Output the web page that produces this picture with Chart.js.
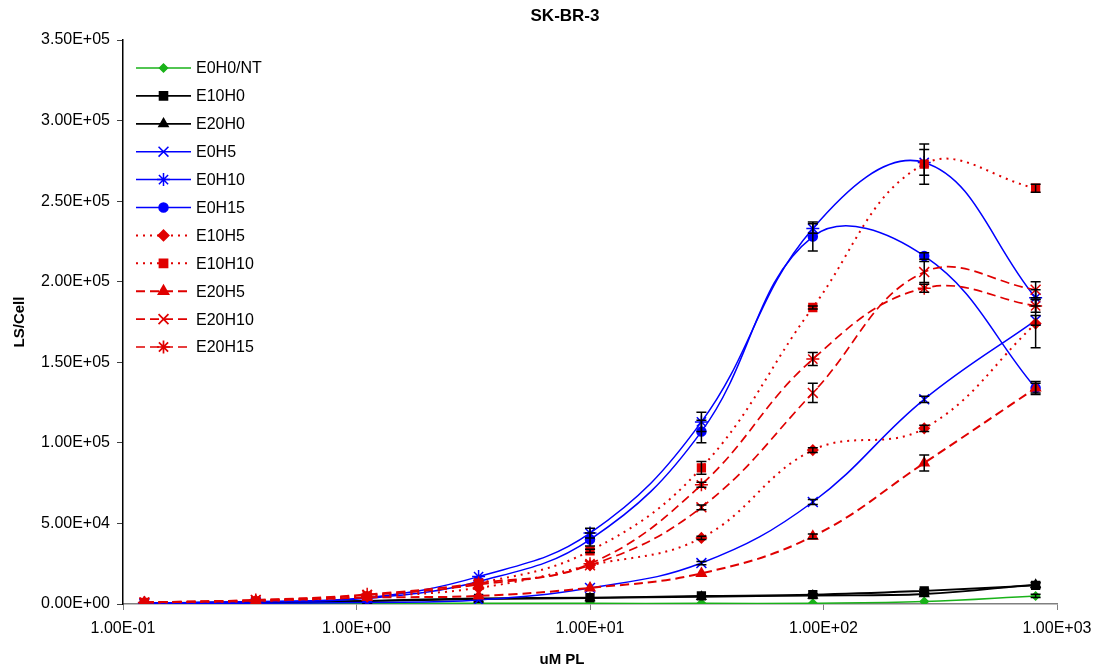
<!DOCTYPE html>
<html>
<head>
<meta charset="utf-8">
<script src="https://cdn.jsdelivr.net/npm/chart.js@4"></script>
<style>
html,body{margin:0;padding:0;background:#fff;}
#wrap{width:1115px;height:671px;}
</style>
</head>
<body>
<div id="wrap"><canvas id="c" width="1115" height="671"></canvas></div>
<script>
// ---- data ----
const concentrations = [0.1235, 0.3704, 1.111, 3.333, 10, 30, 90, 270, 810];
const xTickValues = [0.1, 1, 10, 100, 1000];
const yTickStep = 50000;
const seriesNames = ["E0H0/NT","E10H0","E20H0","E0H5","E0H10","E0H15","E10H5","E10H10","E20H5","E20H10","E20H15"];
const E0H0  = [300, 400, 500, 500, 400, 400, 500, 1500, 5000];
const E10H0 = [600, 1000, 2000, 3500, 4000, 5000, 5800, 8200, 11500];
const E20H0 = [600, 1000, 1800, 3000, 3700, 4500, 5200, 6200, 12000];
const E0H5  = [300, 500, 1000, 2500, 10000, 25400, 63300, 127000, 176000];
const E0H10 = [600, 1500, 4000, 17000, 44000, 113000, 233000, 274000, 190000];
const E0H15 = [600, 1400, 3500, 14000, 40000, 107000, 228000, 216000, 134000];
const E10H5 = [800, 1800, 4500, 10000, 24000, 41000, 95500, 109000, 174000];
const E10H10= [1000, 2000, 5000, 13000, 33000, 84500, 184000, 273000, 258000];
const E20H5 = [1000, 2000, 4000, 5000, 10000, 19000, 42000, 87500, 134000];
const E20H10= [1000, 2500, 5500, 12000, 24000, 60000, 131000, 206000, 195000];
const E20H15= [1000, 2500, 6000, 13000, 25000, 74000, 152000, 196000, 185000];
// error (half-width) per point
const errE0H0  = [0,0,0,0,0,0,0,0,1000];
const errE10H0 = [0,0,0,0,0,0,500,1000,1500];
const errE20H0 = [0,0,0,0,0,0,0,1000,1500];
const errE0H5  = [0,0,0,0,0,1000,1500,2000,3000];
const errE0H10 = [0,0,0,0,3000,6000,3000,8000,5000];
const errE0H15 = [0,0,0,0,4000,7000,9000,2000,3000];
const errE10H5 = [0,0,0,0,0,1000,1500,2000,15000];
const errE10H10= [0,0,0,0,1000,4000,1000,12500,2500];
const errE20H5 = [0,0,0,0,0,0,1500,5000,4000];
const errE20H10= [0,0,0,0,0,1500,6000,6500,5000];
const errE20H15= [0,0,0,0,0,1500,4000,2500,4000];

const seriesValues = [E0H0,E10H0,E20H0,E0H5,E0H10,E0H15,E10H5,E10H10,E20H5,E20H10,E20H15];
const seriesErrors = [errE0H0,errE10H0,errE20H0,errE0H5,errE0H10,errE0H15,errE10H5,errE10H10,errE20H5,errE20H10,errE20H15];

// ---- styles ----
const GREEN = '#19b219', BLACK = '#000000', BLUE = '#0000ff', RED = '#e00000';
const styles = [
  {c:GREEN, dash:[], lw:1.5, ps:'rectRot', r:4},
  {c:BLACK, dash:[], lw:1.8, ps:'rect', r:5.5},
  {c:BLACK, dash:[], lw:1.8, ps:'triangle', r:5},
  {c:BLUE, dash:[], lw:1.5, ps:'crossRot', r:7},
  {c:BLUE, dash:[], lw:1.5, ps:'star', r:6.5},
  {c:BLUE, dash:[], lw:1.5, ps:'circle', r:4.5},
  {c:RED, dash:[2,5], lw:2, ps:'rectRot', r:5},
  {c:RED, dash:[2,5], lw:2, ps:'rect', r:5.5},
  {c:RED, dash:[9,5], lw:2, ps:'triangle', r:5.5},
  {c:RED, dash:[9,5], lw:1.7, ps:'crossRot', r:7},
  {c:RED, dash:[9,5], lw:1.7, ps:'star', r:6.5}
];

function fmtExp(v){
  if (v === 0) return '0.00E+00';
  const e = Math.floor(Math.log10(Math.abs(v)) + 1e-9);
  const m = v / Math.pow(10, e);
  const sign = e < 0 ? '-' : '+';
  const ae = Math.abs(e);
  return m.toFixed(2) + 'E' + sign + (ae < 10 ? '0' + ae : '' + ae);
}

const datasets = seriesNames.map((name, i) => ({
  label: name,
  data: concentrations.map((x, j) => ({x: x, y: seriesValues[i][j]})),
  errors: seriesErrors[i],
  borderColor: styles[i].c,
  backgroundColor: styles[i].c,
  borderWidth: styles[i].lw,
  borderDash: styles[i].dash,
  pointStyle: styles[i].ps,
  pointRadius: styles[i].r,
  pointBorderWidth: 1.5,
  pointBackgroundColor: styles[i].c,
  pointBorderColor: styles[i].c,
  tension: 0.4,
  fill: false,
  order: seriesNames.length - i
}));

const FONT = '"Liberation Sans", Arial, sans-serif';

const errorBars = {
  id: 'errorBars',
  afterDatasetsDraw(chart) {
    const ctx = chart.ctx, xs = chart.scales.x, ys = chart.scales.y;
    ctx.save();
    ctx.strokeStyle = '#000';
    ctx.lineWidth = 1.5;
    chart.data.datasets.forEach(ds => {
      ds.data.forEach((p, j) => {
        const e = ds.errors[j];
        if (!e) return;
        const px = xs.getPixelForValue(p.x);
        const y1 = ys.getPixelForValue(p.y + e);
        const y2 = ys.getPixelForValue(Math.max(0, p.y - e));
        ctx.beginPath();
        ctx.moveTo(px, y1); ctx.lineTo(px, y2);
        ctx.moveTo(px - 5, y1); ctx.lineTo(px + 5, y1);
        ctx.moveTo(px - 5, y2); ctx.lineTo(px + 5, y2);
        ctx.stroke();
      });
    });
    ctx.restore();
  }
};

function drawMarker(ctx, style, x, y) {
  Chart.helpers.drawPoint(ctx, {pointStyle: style.ps, radius: style.r, borderWidth: 1.5, rotation: 0}, x, y);
}

const legendAndTitles = {
  id: 'legendAndTitles',
  afterDraw(chart) {
    const ctx = chart.ctx;
    ctx.save();
    // legend
    const x0 = 136, x1 = 191, tx = 196, y0 = 68, dy = 27.9;
    ctx.font = '16px ' + FONT;
    ctx.textBaseline = 'middle';
    seriesNames.forEach((name, i) => {
      const s = styles[i];
      const y = y0 + i * dy;
      ctx.strokeStyle = s.c;
      ctx.lineWidth = s.lw;
      ctx.setLineDash(s.dash);
      ctx.beginPath(); ctx.moveTo(x0, y); ctx.lineTo(x1, y); ctx.stroke();
      ctx.setLineDash([]);
      ctx.fillStyle = s.c; ctx.strokeStyle = s.c;
      drawMarker(ctx, s, (x0 + x1) / 2, y);
      ctx.fillStyle = '#000';
      ctx.textAlign = 'left';
      ctx.fillText(name, tx, y + 1);
    });
    // titles
    ctx.fillStyle = '#000';
    ctx.textAlign = 'center';
    ctx.font = 'bold 17px ' + FONT;
    ctx.fillText('SK-BR-3', 565, 16);
    ctx.font = 'bold 15px ' + FONT;
    ctx.fillText('uM PL', 562, 660);
    ctx.translate(20, 322);
    ctx.rotate(-Math.PI / 2);
    ctx.fillText('LS/Cell', 0, 0);
    ctx.restore();
  }
};

new Chart(document.getElementById('c'), {
  type: 'line',
  data: { datasets: datasets },
  options: {
    responsive: false,
    animation: false,
    layout: { padding: { left: 0, right: 58, top: 40, bottom: 0 } },
    plugins: { legend: { display: false }, title: { display: false }, tooltip: { enabled: false } },
    scales: {
      x: {
        type: 'logarithmic',
        min: 0.1, max: 1000,
        afterBuildTicks(scale) { scale.ticks = xTickValues.map(v => ({value: v, major: true})); },
        afterFit(scale) { scale.height = 67; },
        grid: { drawOnChartArea: false, color: '#808080', tickLength: 6, lineWidth: 1 },
        border: { color: '#808080', width: 1.5 },
        ticks: { color: '#000', font: { size: 16, family: FONT }, padding: 9, maxRotation: 0, autoSkip: false,
                 callback: v => fmtExp(v) }
      },
      y: {
        type: 'linear',
        min: 0, max: 350000,
        afterFit(scale) { scale.width = 123; },
        grid: { drawOnChartArea: false, color: '#404040', tickLength: 6, lineWidth: 1 },
        border: { color: '#000', width: 1.5 },
        ticks: { stepSize: yTickStep, color: '#000', font: { size: 16, family: FONT }, padding: 7,
                 callback: v => fmtExp(v) }
      }
    }
  },
  plugins: [errorBars, legendAndTitles]
});
</script>
</body>
</html>
